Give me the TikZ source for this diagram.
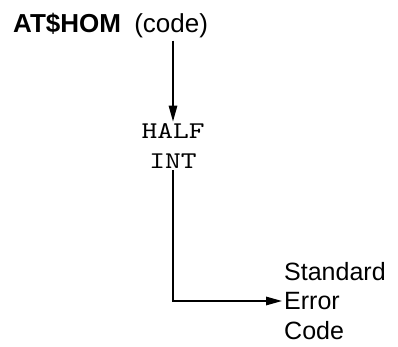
\documentclass[tikz,border=0pt]{standalone}
\usepackage{fontspec}
\setmainfont{Liberation Sans}
\newfontfamily\codefont[Extension=.otf, FakeStretch=1.25]{lmmono10-regular}
\usetikzlibrary{arrows.meta}
\tikzset{
	flow/.style={line width=1.5pt, -{Triangle[length=16pt,width=8.5pt]}},
	sftext/.style={font=\fontsize{25}{29.5}\selectfont, inner sep=2pt},
	codetext/.style={font=\fontsize{24}{29.5}\selectfont\codefont, align=center, inner sep=2pt}
}
\begin{document}
\begin{tikzpicture}[x=1pt,y=-1pt]
	\useasboundingbox (0,0) rectangle (398,347);
	\node [sftext, font=\fontsize{26}{30}\selectfont, anchor=base west] (athom) at (11,33) {\textbf{AT\$HOM}\hspace{6pt} (code)};
	\node [codetext] (halfint) at (173,146) {HALF\\INT};
	\node [sftext, align=left, anchor=west] (stderr) at (282,301) {Standard\\Error\\Code};
	
	\draw [flow] (halfint.north |- athom.south) -- (halfint.north);
	\draw [flow] (halfint.south) |- (stderr.west);
\end{tikzpicture}
\end{document}
